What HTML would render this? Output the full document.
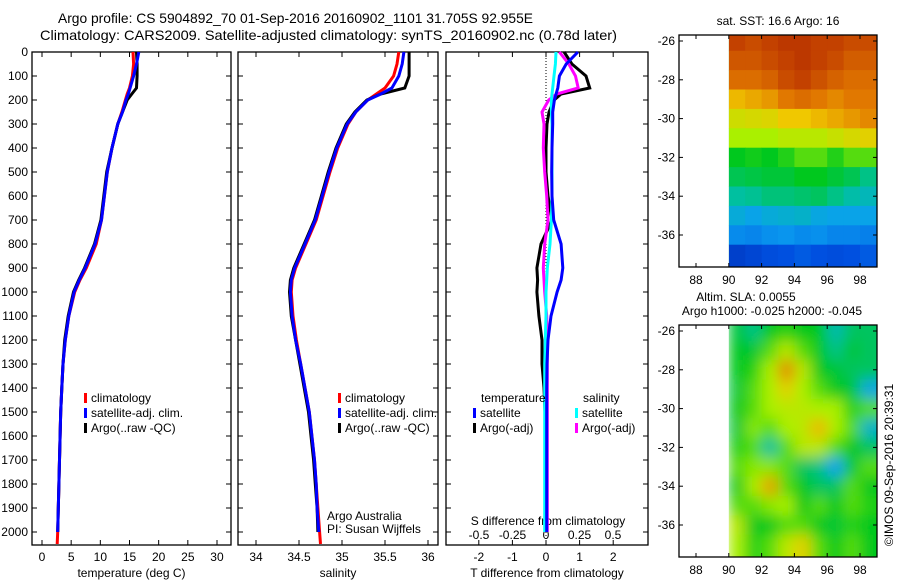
<!DOCTYPE html>
<html><head><meta charset="utf-8"><style>
body{margin:0;background:#fff;}
svg{display:block;font-family:"Liberation Sans",sans-serif;font-size:12px;}
</style></head><body>
<svg id="c" width="900" height="580" xmlns="http://www.w3.org/2000/svg">
<text x="58" y="23" font-size="14" textLength="475" lengthAdjust="spacingAndGlyphs">Argo profile: CS 5904892_70 01-Sep-2016 20160902_1101 31.705S 92.955E</text>
<text x="40" y="40" font-size="14" textLength="577" lengthAdjust="spacingAndGlyphs">Climatology: CARS2009. Satellite-adjusted climatology: synTS_20160902.nc (0.78d later)</text>
<g id="g"></g>
</svg>
<script>
const depths=[0,50,100,150,175,200,250,300,400,500,600,700,800,900,950,1000,1100,1200,1300,1400,1500,1600,1700,1800,1900,2000,2050];
const tempArgo=[16.2,16.3,16.3,16.2,15.4,14.6,13.8,13.0,12.0,11.1,10.6,10.1,9.0,7.3,6.3,5.4,4.5,3.9,3.6,3.4,3.2,3.1,3.0,2.9,2.8,2.7,null];
const tempClim=[15.6,15.7,15.5,15.0,14.6,14.3,13.7,13.0,12.0,11.2,10.7,10.2,9.3,7.6,6.5,5.6,4.6,4.0,3.6,3.4,3.2,3.1,3.0,2.9,2.8,2.7,2.6];
const tempSat=[16.6,16.2,15.7,15.1,14.8,14.4,13.8,13.0,12.0,11.2,10.7,10.2,9.1,7.4,6.4,5.5,4.6,4.0,3.6,3.4,3.2,3.1,3.0,2.9,2.8,2.7,null];
const salArgo=[35.78,35.78,35.78,35.73,35.45,35.29,35.15,35.05,34.93,34.84,34.76,34.68,34.56,34.44,34.40,34.39,34.41,34.46,34.51,34.56,34.61,34.64,34.67,34.69,34.71,34.72,null];
const salClim=[35.66,35.64,35.6,35.5,35.4,35.3,35.16,35.07,34.95,34.86,34.78,34.70,34.58,34.46,34.42,34.41,34.43,34.47,34.52,34.57,34.62,34.65,34.68,34.70,34.72,34.74,34.75];
const salSat=[35.72,35.70,35.66,35.58,35.45,35.30,35.16,35.06,34.94,34.85,34.77,34.69,34.57,34.45,34.41,34.40,34.42,34.46,34.52,34.57,34.62,34.65,34.68,34.70,34.71,34.73,null];
const tDiffSat=[0.95,0.6,0.4,0.35,0.3,0.25,0.2,0.2,0.18,0.17,0.18,0.23,0.45,0.5,0.45,0.33,0.15,0.06,0.03,0.02,0.02,0.02,0.02,0.02,0.02,0.02,null];
const tDiffArgo=[0.54,0.77,1.19,1.3,0.45,0.24,0.09,0.03,0,0,0.06,0.18,-0.15,-0.27,-0.25,-0.27,-0.21,-0.12,-0.12,-0.06,-0.03,-0.03,-0.03,-0.03,-0.03,-0.03,null];
const sDiffSat=[0.075,0.07,0.06,0.05,0.045,0.04,0.04,0.045,0.045,0.045,0.045,0.04,0.03,0.01,0.005,0,0,-0.005,-0.01,-0.01,-0.01,-0.01,-0.01,-0.01,-0.01,-0.01,null];
const sDiffArgo=[0.1,0.17,0.22,0.24,0.08,0.02,-0.03,-0.015,-0.02,-0.01,0.005,0.015,-0.01,-0.02,-0.015,-0.01,0.005,0.01,0.01,0.01,0.01,0.01,0.01,0.01,0.01,0.01,null];
const depthTicks=[0,100,200,300,400,500,600,700,800,900,1000,1100,1200,1300,1400,1500,1600,1700,1800,1900,2000];
const tempTicks=[0,5,10,15,20,25,30];
const salTicks=[34,34.5,35,35.5,36];
const tdTicks=[-2,-1,0,1,2];
const sdTicks=[-0.5,-0.25,0,0.25,0.5];
const sdTickLabels=["-0.5","-0.25","0","0.25","0.5"];
const mapLons=[88,90,92,94,96,98];
const mapLats=[-26,-28,-30,-32,-34,-36];
const sstGrid=[
[.9,.88,.9,.92,.92,.9,.9,.88,.88],
[.86,.86,.88,.9,.92,.9,.88,.85,.85],
[.82,.82,.84,.88,.9,.87,.84,.82,.82],
[.72,.74,.76,.8,.82,.8,.78,.8,.8],
[.65,.66,.67,.7,.7,.72,.74,.76,.78],
[.6,.6,.6,.62,.62,.62,.64,.66,.68],
[.5,.51,.5,.52,.55,.55,.52,.55,.55],
[.46,.47,.48,.48,.5,.5,.48,.46,.42],
[.4,.41,.43,.43,.44,.45,.42,.39,.37],
[.33,.31,.33,.34,.35,.32,.31,.31,.31],
[.26,.25,.27,.28,.26,.27,.25,.25,.24],
[.1,.12,.14,.15,.17,.15,.14,.15,.17]];
const slaGrid=[
[.48,.42,.5,.52,.5,.5,.38,.45,.45],
[.5,.48,.55,.62,.55,.5,.42,.48,.45],
[.5,.52,.6,.78,.62,.5,.48,.45,.45],
[.48,.55,.6,.68,.6,.55,.5,.48,.32],
[.5,.55,.6,.62,.62,.6,.6,.52,.55],
[.48,.58,.55,.6,.62,.72,.6,.55,.35],
[.52,.55,.4,.55,.62,.62,.55,.5,.45],
[.55,.58,.58,.55,.45,.42,.3,.48,.55],
[.5,.6,.75,.55,.5,.45,.45,.55,.5],
[.55,.55,.58,.6,.5,.55,.5,.55,.52],
[.62,.5,.5,.55,.55,.5,.48,.52,.5],
[.6,.52,.55,.62,.68,.55,.5,.55,.5]];

const NS='http://www.w3.org/2000/svg';
const G=document.getElementById('g');
function mk(tag,at,parent){const e=document.createElementNS(NS,tag);for(const k in at)e.setAttribute(k,at[k]);(parent||G).appendChild(e);return e;}
function txt(x,y,s,anchor,parent){const t=mk('text',{x:x,y:y,'text-anchor':anchor||'start'},parent);t.textContent=s;return t;}

const Y=d=>52+d*0.24;
const TOP=52,BOT=545;
const panels=[
 {l:32,r:231,x:v=>42+v*5.833,ticks:tempTicks,labels:tempTicks.map(String),title:'temperature (deg C)',name:'temperature-panel'},
 {l:238,r:438,x:v=>342+(v-35)*86,ticks:salTicks,labels:salTicks.map(String),title:'salinity',name:'salinity-panel'},
 {l:446,r:648,x:v=>546+v*33.6,ticks:tdTicks,labels:tdTicks.map(String),title:'T difference from climatology',name:'difference-panel'}
];
panels.forEach((p,i)=>{
 const g=mk('g',{});
 
 
 const r=mk('rect',{x:p.l,y:TOP,width:p.r-p.l,height:BOT-TOP,fill:'none',stroke:'#000','stroke-width':1.3},g);
 
 
 depthTicks.forEach(d=>{
  mk('line',{x1:p.l,x2:p.l+5,y1:Y(d),y2:Y(d),stroke:'#000'},g);
  mk('line',{x1:p.r,x2:p.r-5,y1:Y(d),y2:Y(d),stroke:'#000'},g);
 });
 p.ticks.forEach((t,k)=>{
  const x=p.x(t);
  mk('line',{x1:x,x2:x,y1:TOP,y2:TOP+5,stroke:'#000'},g);
  mk('line',{x1:x,x2:x,y1:BOT,y2:BOT-5,stroke:'#000'},g);
  const lb=txt(x,561,p.labels[k],'middle',g);
  
  
 });
 const tt=txt((p.l+p.r)/2,577,p.title,'middle',g);
 
 
});
depthTicks.forEach(d=>{
 const t=txt(28,Y(d)+4,String(d),'end');
 
 
});
const zl=mk('line',{x1:546,x2:546,y1:TOP,y2:BOT,stroke:'#000','stroke-dasharray':'1,2'});


sdTicks.forEach((t,k)=>{
 const x=546+t*134;
 const lb=txt(x,539,sdTickLabels[k],'middle');
 
 
});
const sdt=txt(548,525,'S difference from climatology','middle');



function line(vals,xf,color,name){
 let pts=[];
 vals.forEach((v,i)=>{if(v!==null)pts.push(xf(v).toFixed(1)+','+Y(depths[i]).toFixed(1));});
 const pl=mk('polyline',{points:pts.join(' '),fill:'none',stroke:color,'stroke-width':3});
 
 
}
const px=panels.map(p=>p.x);
line(tempClim,px[0],'#ff0000','temp-climatology-line');
line(tempArgo,px[0],'#000000','temp-argo-line');
line(tempSat,px[0],'#0000ff','temp-satellite-line');
line(salClim,px[1],'#ff0000','sal-climatology-line');
line(salArgo,px[1],'#000000','sal-argo-line');
line(salSat,px[1],'#0000ff','sal-satellite-line');
const sx=v=>546+v*134;
line(tDiffArgo,px[2],'#000000','t-diff-argo-line');
line(sDiffArgo,sx,'#ff00ff','s-diff-argo-line');
line(sDiffSat,sx,'#00ffff','s-diff-satellite-line');
line(tDiffSat,px[2],'#0000ff','t-diff-satellite-line');

function legend(x,y,color,label,name){
 const g=mk('g',{});
 
 
 mk('rect',{x:x,y:y-9,width:3,height:10,fill:color},g);
 txt(x+7,y,label,'start',g);
}
[[84,'climatology','#ff0000'],[84,'satellite-adj. clim.','#0000ff'],[84,'Argo(..raw -QC)','#000000']].forEach((e,i)=>{
 legend(e[0],402+i*15,e[2],e[1],'temp-legend-entry');
 legend(338,402+i*15,e[2],e[1],'sal-legend-entry');
});
const lt=txt(481,402,'temperature');
const ls=txt(583,402,'salinity');
legend(473,417,'#0000ff','satellite','t-sat-legend-entry');
legend(473,432,'#000000','Argo(-adj)','t-argo-legend-entry');
legend(575,417,'#00ffff','satellite','s-sat-legend-entry');
legend(575,432,'#ff00ff','Argo(-adj)','s-argo-legend-entry');
const a1=txt(327,520,'Argo Australia');
const a2=txt(327,533,'PI: Susan Wijffels');

const stops=[[0,[0,32,160]],[0.15,[0,80,224]],[0.3,[10,160,240]],[0.4,[0,192,160]],[0.5,[0,200,30]],[0.6,[170,240,0]],[0.7,[240,200,0]],[0.8,[225,120,0]],[0.9,[195,65,0]],[1,[160,20,0]]];
function cmap(v){for(let i=1;i<stops.length;i++){if(v<=stops[i][0]){const a=stops[i-1],b=stops[i],f=(v-a[0])/(b[0]-a[0]);return 'rgb('+a[1].map((c,k)=>Math.round(c+(b[1][k]-c)*f)).join(',')+')';}}return 'rgb(160,20,0)';}

function map(top,grid,name,blur){
 const bottom=top+232,L=679,R=877;
 const lx=lon=>696+(lon-88)*16.4, ly=lat=>top+6+(-26-lat)*19.4;
 const g=mk('g',{});
 
 
 const cid='clip'+top;
 const defs=mk('defs',{},g);
 const cp=mk('clipPath',{id:cid},defs);
 mk('rect',{x:lx(90),y:top,width:R-lx(90),height:bottom-top},cp);
 if(blur){const f=mk('filter',{id:'bl'+top,x:'-10%',y:'-10%',width:'120%',height:'120%'},defs);mk('feGaussianBlur',{stdDeviation:7},f);}
 const cg=mk('g',{'clip-path':'url(#'+cid+')'},g);
 const ig=mk('g',blur?{filter:'url(#bl'+top+')'}:{},cg);
 mk('rect',{x:lx(90),y:top,width:R-lx(90),height:bottom-top,fill:cmap(0.5)},ig);
 grid.forEach((row,r)=>row.forEach((v,c)=>{
  const lat=-26-r;
  const y0=r==0?top-15:ly(lat+0.5);
  const y1=r==grid.length-1?bottom+15:ly(lat-0.5);
  const x0=lx(90+c);
  const w=(c==row.length-1)?R+15-x0:16.4;
  const cell=mk('rect',{x:x0.toFixed(1),y:y0.toFixed(1),width:(w+0.5).toFixed(1),height:(y1-y0+0.5).toFixed(1),fill:cmap(v)},ig);
  
  
 }));
 mk('rect',{x:L,y:top,width:R-L,height:bottom-top,fill:'none',stroke:'#000','stroke-width':1.3},g);
 mapLons.forEach(lon=>{const x=lx(lon);mk('line',{x1:x,x2:x,y1:top,y2:top+4,stroke:'#000'},g);mk('line',{x1:x,x2:x,y1:bottom,y2:bottom-4,stroke:'#000'},g);
  const t=txt(x,bottom+17,String(lon),'middle',g);});
 mapLats.forEach(lat=>{const y=ly(lat);mk('line',{x1:L,x2:L+4,y1:y,y2:y,stroke:'#000'},g);mk('line',{x1:R,x2:R-4,y1:y,y2:y,stroke:'#000'},g);
  const t=txt(L-4,y+4,String(lat),'end',g);});
}
map(35,sstGrid,'sst-map',false);
map(325,slaGrid,'sla-map',true);
const m1=txt(778,25,'sat. SST: 16.6 Argo: 16','middle');
const m2=txt(746,301,'Altim. SLA: 0.0055','middle');
const m3=txt(772,315,'Argo h1000: -0.025 h2000: -0.045','middle');
const cr=txt(0,0,'©IMOS 09-Sep-2016 20:39:31','middle');
cr.setAttribute('transform','translate(893,465) rotate(-90)');


</script>
</body></html>
